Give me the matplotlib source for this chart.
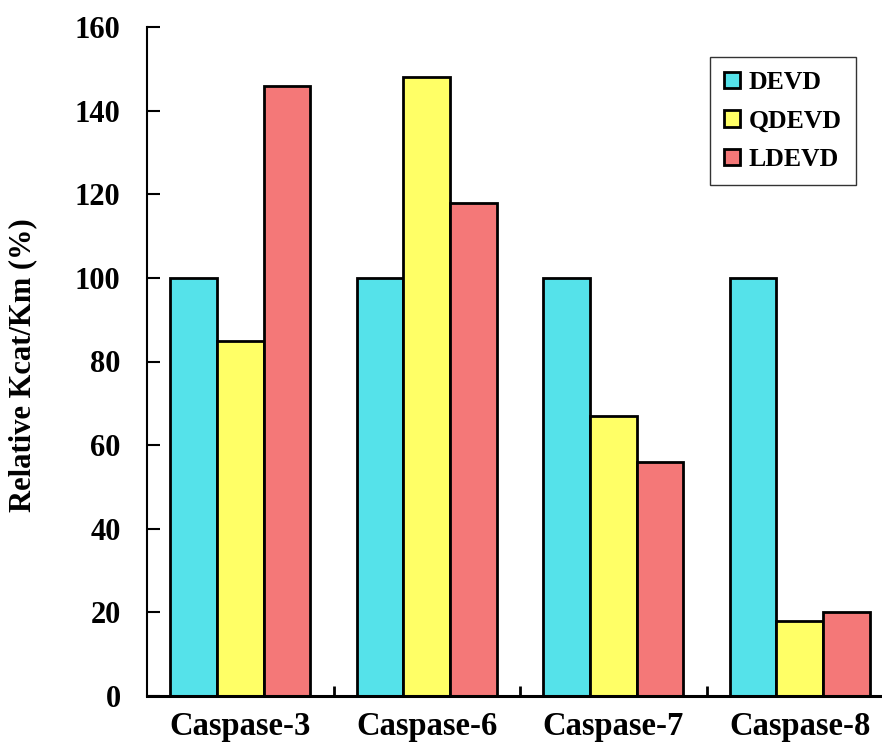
import matplotlib
matplotlib.use("Agg")
import matplotlib.pyplot as plt
import numpy as np

categories = ["Caspase-3", "Caspase-6", "Caspase-7", "Caspase-8"]
series = ["DEVD", "QDEVD", "LDEVD"]
devd = [100, 100, 100, 100]
qdevd = [85, 148, 67, 18]
ldevd = [146, 118, 56, 20]
y_ticks = [0, 20, 40, 60, 80, 100, 120, 140, 160]

colors = ["#55e2ea", "#ffff66", "#f47878"]

plt.rcParams['font.family'] = ['Liberation Serif', 'DejaVu Serif']
plt.rcParams['font.weight'] = 'bold'

fig = plt.figure(figsize=(8.82, 7.48), dpi=100)
ax = fig.add_axes([147 / 882, 52 / 748, 746 / 882, 669 / 748])

x = np.arange(len(categories))
w = 0.25
for i, (vals, name) in enumerate(zip([devd, qdevd, ldevd], series)):
    ax.bar(x + (i - 1) * w, vals, w, color=colors[i], edgecolor='black',
           linewidth=2, label=name)

ax.set_xlim(-0.5, 3.5)
ax.set_ylim(0, 160)
ax.set_yticks(y_ticks)
ax.set_xticks(x)
ax.set_xticklabels(categories)
ax.set_xticks(np.arange(0.5, 3.5, 1), minor=True)

ax.tick_params(axis='y', direction='in', length=9, width=1.5, labelsize=22, pad=19)
ax.tick_params(axis='x', which='major', length=0, labelsize=23.5, pad=11)
ax.tick_params(axis='x', which='minor', direction='in', length=7, width=2)
for lab in ax.get_yticklabels() + ax.get_xticklabels():
    lab.set_fontweight('bold')

ax.spines['top'].set_visible(False)
ax.spines['right'].set_visible(False)
ax.spines['left'].set_linewidth(1.5)
ax.spines['bottom'].set_linewidth(2.2)

ax.set_ylabel("Relative Kcat/Km (%)", fontsize=22, fontweight='bold')
ax.yaxis.set_label_coords(-0.147, 0.495)

leg = ax.legend(loc='upper left', fontsize=18.5, frameon=True, fancybox=False,
                handlelength=0.6, handleheight=0.6, handletextpad=0.35,
                labelspacing=0.6, borderpad=0.55, borderaxespad=0, edgecolor='black')
leg.set_bbox_to_anchor(((710 - 147) / 746, (696 - 57) / 669), transform=ax.transAxes)
leg.get_frame().set_linewidth(1.0)
for t in leg.get_texts():
    t.set_fontweight('bold')

fig.savefig("out.png", dpi=100)
